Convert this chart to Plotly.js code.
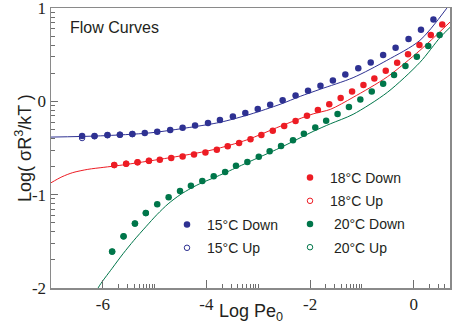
<!DOCTYPE html>
<html>
<head>
<meta charset="utf-8">
<script src="https://cdn.plot.ly/plotly-3.0.1.min.js"></script>
<style>
  body { margin: 0; padding: 0; background: #fff; }
  #flow { width: 452px; height: 332px; }
</style>
</head>
<body>
<div id="flow"></div>
<script>
// flow curves, log stress vs log Peclet number
var blueX = [-6.40,-6.16,-5.91,-5.67,-5.43,-5.19,-4.95,-4.70,-4.46,-4.22,-3.97,-3.74,-3.49,-3.25,-3.01,-2.77,-2.53,-2.28,-2.04,-1.80,-1.56,-1.32,-1.07,-0.83,-0.59,-0.35,-0.10,0.14,0.38];
var blueY = [-0.372,-0.372,-0.361,-0.357,-0.350,-0.340,-0.325,-0.308,-0.282,-0.260,-0.233,-0.200,-0.161,-0.125,-0.083,-0.035,0.011,0.064,0.115,0.168,0.225,0.289,0.354,0.418,0.496,0.576,0.668,0.768,0.879];
var blueUpX = [-6.40,-6.16,-5.91,-5.67,-5.43];
var blueUpY = [-0.393,-0.374,-0.363,-0.358,-0.351];

var redX = [-5.78,-5.55,-5.33,-5.11,-4.90,-4.68,-4.46,-4.24,-4.02,-3.80,-3.59,-3.37,-3.15,-2.94,-2.72,-2.50,-2.28,-2.06,-1.85,-1.63,-1.41,-1.19,-0.97,-0.76,-0.54,-0.32,-0.11,0.11,0.33,0.55];
var redY = [-0.681,-0.668,-0.652,-0.638,-0.625,-0.608,-0.590,-0.570,-0.549,-0.518,-0.482,-0.447,-0.407,-0.361,-0.314,-0.265,-0.211,-0.153,-0.093,-0.032,0.035,0.107,0.175,0.246,0.329,0.415,0.504,0.603,0.711,0.825];
var redUpX = [-5.78,-5.55,-5.33,-5.11];
var redUpY = [-0.683,-0.669,-0.653,-0.639];

var greenX = [-5.82,-5.60,-5.38,-5.17,-4.95,-4.73,-4.51,-4.30,-4.08,-3.86,-3.64,-3.43,-3.21,-2.99,-2.78,-2.56,-2.33,-2.12,-1.90,-1.69,-1.47,-1.25,-1.03,-0.81,-0.59,-0.38,-0.16,0.06,0.28,0.50];
var greenY = [-1.610,-1.447,-1.310,-1.197,-1.104,-1.029,-0.962,-0.906,-0.855,-0.802,-0.756,-0.691,-0.651,-0.593,-0.536,-0.479,-0.418,-0.346,-0.279,-0.209,-0.136,-0.061,0.021,0.107,0.190,0.282,0.379,0.479,0.593,0.711];
var greenUpX = [-5.82,-5.60,-5.38,-5.17];
var greenUpY = [-1.612,-1.449,-1.311,-1.198];

// fitted curves
var blueFitX = [-7.0,-6.05,-5.09,-4.32,-3.74,-3.16,-2.58,-2.19,-1.81,-1.17,-0.52,0.12,0.64];
var blueFitY = [-0.383,-0.370,-0.338,-0.279,-0.225,-0.139,-0.032,0.054,0.129,0.254,0.439,0.654,1.0];
var redFitX = [-7.0,-6.79,-6.58,-6.29,-5.98,-5.67,-5.09,-4.32,-3.87,-3.22,-2.58,-1.94,-1.61,-1.17,-0.51,0.12,0.70];
var redFitY = [-0.873,-0.809,-0.764,-0.729,-0.707,-0.686,-0.638,-0.568,-0.518,-0.413,-0.268,-0.134,-0.086,0.043,0.263,0.547,0.850];
var greenFitX = [-6.19,-6.09,-5.82,-5.61,-5.40,-5.17,-4.95,-4.74,-4.51,-4.30,-4.09,-3.85,-3.64,-3.22,-2.58,-1.94,-1.61,-1.17,-0.51,0.12,0.51,0.70];
var greenFitY = [-2.15,-2.00,-1.790,-1.634,-1.490,-1.345,-1.211,-1.099,-1.002,-0.932,-0.873,-0.818,-0.766,-0.659,-0.498,-0.322,-0.241,-0.139,0.096,0.418,0.686,0.793];

var xTickVals = [-6, -4, -2, 0];
var xTickText = ['-6', '-4', '-2', '0'];
var yTickVals = [-2, -1, 0, 1];
var yTickText = ['-2', '-1', '0', '1'];

var BLUE = '#2e3192', RED = '#ed1c24', GREEN = '#00764a';
var INK = '#231f20';

// log-spaced minor ticks between major ticks
var xMinor = [], yMinor = [];
[-6, -4, -2, 0].forEach(function(m){
	for (var k = 2; k <= 10; k++) xMinor.push(m + Math.log10(k));
});
[-2, -1, 0].forEach(function(m){
	for (var k = 2; k <= 9; k++) yMinor.push(m + Math.log10(k));
});

function fit(x, y, c){
	return {x: x, y: y, mode: 'lines', type: 'scatter', line: {color: c, width: 1, shape: 'spline', smoothing: 0.8},
		showlegend: false, hoverinfo: 'none'};
}
function dots(x, y, c, name, legend, rank){
	return {x: x, y: y, mode: 'markers', type: 'scatter', name: name, legend: legend,
		legendgroup: name, legendrank: rank, marker: {color: c, size: 6.5, symbol: 'circle'}};
}
function rings(x, y, c, name, legend, rank){
	return {x: x, y: y, mode: 'markers', type: 'scatter', name: name, legend: legend,
		legendgroup: name, legendrank: rank, marker: {color: c, size: 5.5, symbol: 'circle-open', line: {width: 1, color: c}}};
}

var data = [
	fit(blueFitX, blueFitY, BLUE),
	fit(redFitX, redFitY, RED),
	fit(greenFitX, greenFitY, GREEN),
	rings(blueUpX, blueUpY, BLUE, '15\u00b0C Up', 'legend', 2),
	rings(redUpX, redUpY, RED, '18\u00b0C Up', 'legend2', 2),
	rings(greenUpX, greenUpY, GREEN, '\u00a020\u00b0C Up', 'legend2', 4),
	dots(blueX, blueY, BLUE, '15\u00b0C Down', 'legend', 1),
	dots(redX, redY, RED, '18\u00b0C Down', 'legend2', 1),
	dots(greenX, greenY, GREEN, '\u00a020\u00b0C Down', 'legend2', 3)
];

var axisCommon = {
	showline: true, mirror: true, linecolor: '#8a8a8a', linewidth: 1.5,
	ticks: 'inside', tickcolor: '#6d6d6d', tickwidth: 1, showgrid: false, zeroline: false,
	tickmode: 'array', ticklabeloverflow: 'allow',
	tickfont: {family: 'Liberation Serif', size: 17, color: INK}
};

var legendCommon = {
	xanchor: 'left', yanchor: 'top', bgcolor: 'rgba(0,0,0,0)', borderwidth: 0,
	font: {family: 'Liberation Sans', size: 14, color: INK},
	traceorder: 'grouped', tracegroupgap: 2
};

var titleFont = {family: 'Liberation Sans', size: 18, color: INK};

var layout = {
	width: 452, height: 332,
	margin: {l: 51, r: 2, t: 8, b: 44},
	paper_bgcolor: '#fff', plot_bgcolor: '#fff',
	xaxis: Object.assign({}, axisCommon, {
		range: [-7, 0.7], tickvals: xTickVals, ticktext: xTickText, ticklen: 8,
		minor: {tickmode: 'array', tickvals: xMinor, ticks: 'inside', ticklen: 4, tickcolor: '#6d6d6d', tickwidth: 1}
	}),
	yaxis: Object.assign({}, axisCommon, {
		range: [-2.001, 1.001], tickvals: yTickVals, ticktext: yTickText, ticklen: 7,
		minor: {tickmode: 'array', tickvals: yMinor, ticks: 'inside', ticklen: 4, tickcolor: '#6d6d6d', tickwidth: 1}
	}),
	legend: Object.assign({}, legendCommon, {x: (167 - 51) / 399, y: (288 - 209) / 280}),
	legend2: Object.assign({}, legendCommon, {x: (290 - 51) / 399, y: (288 - 162) / 280}),
	annotations: [{
		text: 'Flow Curves', xref: 'paper', yref: 'paper', x: 0.042, y: 0.929,
		xanchor: 'left', yanchor: 'middle', showarrow: false,
		font: {family: 'Liberation Sans', size: 16, color: INK}
	}, {
		// axis titles as annotations so they sit where the original has them
		text: 'Log Pe<sub>0</sub>', xref: 'paper', yref: 'paper', x: 0.5, y: (288 - 312) / 280,
		xanchor: 'center', yanchor: 'middle', showarrow: false, font: titleFont
	}, {
		text: 'Log( \u03c3R<sup>3</sup>/kT )', xref: 'paper', yref: 'paper', x: (23 - 51) / 399, y: 0.5,
		xanchor: 'center', yanchor: 'middle', textangle: -90, showarrow: false, font: titleFont
	}]
};

Plotly.newPlot('flow', data, layout, {staticPlot: true, displayModeBar: false});
</script>
</body>
</html>
